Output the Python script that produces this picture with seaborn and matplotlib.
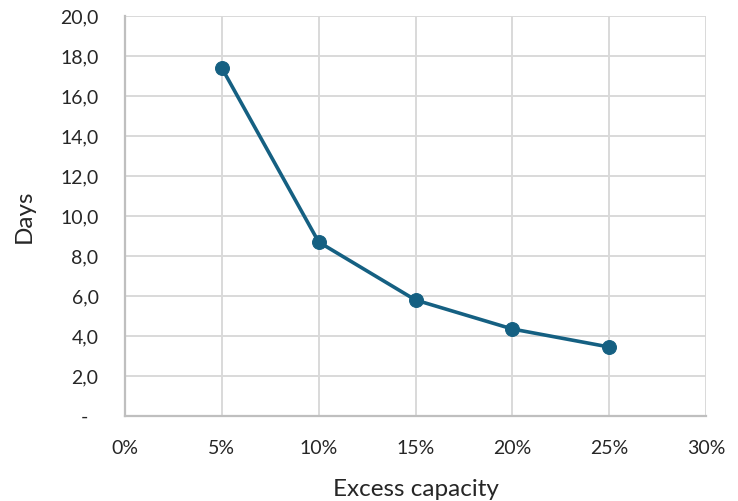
import matplotlib
matplotlib.use("Agg")
import matplotlib.pyplot as plt
import seaborn as sns
import pandas as pd

# Excess capacity (fraction) vs. days
excess_capacity = [0.05, 0.10, 0.15, 0.20, 0.25]
days = [17.4, 8.7, 5.8, 4.35, 3.45]

x_ticks = [0.0, 0.05, 0.10, 0.15, 0.20, 0.25, 0.30]
x_tick_labels = ["0%", "5%", "10%", "15%", "20%", "25%", "30%"]
y_ticks = [0, 2, 4, 6, 8, 10, 12, 14, 16, 18, 20]
y_tick_labels = ["-  ", "2,0", "4,0", "6,0", "8,0", "10,0", "12,0", "14,0", "16,0", "18,0", "20,0"]

df = pd.DataFrame({"Excess capacity": excess_capacity, "Days": days})

sns.set_theme(style="whitegrid")
plt.rcParams["font.family"] = ["Lato", "DejaVu Sans"]

fig = plt.figure(figsize=(7.38, 5.01), dpi=100)
ax = fig.add_axes([125 / 738, 1 - 416 / 501, (706 - 125) / 738, (416 - 16) / 501])

line_color = "#156082"
sns.lineplot(data=df, x="Excess capacity", y="Days", ax=ax, color=line_color,
             linewidth=2.6, marker="o", markersize=10, markeredgecolor=line_color,
             markerfacecolor=line_color, clip_on=False)

ax.set_xlim(0, 0.30)
ax.set_ylim(0, 20)
ax.set_xticks(x_ticks)
ax.set_xticklabels(x_tick_labels)
ax.set_yticks(y_ticks)
ax.set_yticklabels(y_tick_labels)

ax.grid(True, color="#d9d9d9", linewidth=1.4)
ax.set_axisbelow(True)
for side in ["top", "right"]:
    ax.spines[side].set_visible(False)
for side in ["left", "bottom"]:
    ax.spines[side].set_color("#bfbfbf")
    ax.spines[side].set_linewidth(1.6)

ax.tick_params(axis="x", length=0, pad=17, labelsize=14, labelcolor="#262626")
ax.tick_params(axis="y", length=0, pad=19, labelsize=14, labelcolor="#262626")

ax.set_xlabel("Excess capacity", fontsize=17.5, color="#262626", labelpad=16)
ax.set_ylabel("Days", fontsize=17.5, color="#262626", labelpad=18)

fig.savefig("out.png", dpi=100, facecolor="white")
